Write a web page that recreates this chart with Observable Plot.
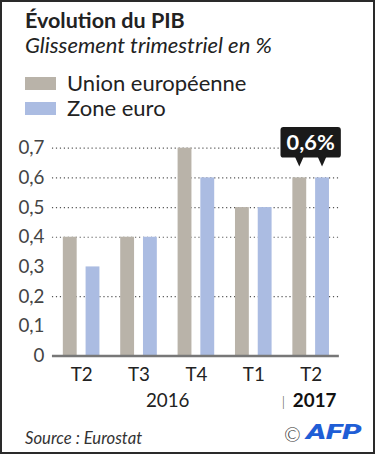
<!DOCTYPE html>
<html>
<head>
<meta charset="utf-8">
<script src="https://cdn.jsdelivr.net/npm/d3@7"></script>
<script src="https://cdn.jsdelivr.net/npm/@observablehq/plot@0.6"></script>
<style>
  html, body { margin: 0; padding: 0; background: #fff; }
  #frame { position: relative; width: 375px; height: 454px; box-sizing: border-box; border: 2px solid #2a2a2a; overflow: hidden; font-family: Lato, "Open Sans", sans-serif; color: #222; }
  .abs { position: absolute; white-space: nowrap; line-height: 1; }
  #title { left: 23px; top: 8px; font-size: 21.5px; font-weight: 700; }
  #subtitle { left: 23px; top: 32px; font-size: 22px; font-style: italic; }
  .sw { position: absolute; width: 31px; height: 13px; }
  .lg { position: absolute; font-size: 22px; line-height: 24px; white-space: nowrap; }
  #chart { position: absolute; left: -2px; top: 118px; line-height: 0; }
  #chart svg { display: block; }
  #source { left: 23px; top: 428px; font-size: 16.7px; font-style: italic; color: #333; }
  #copy { left: 282px; top: 422px; font-size: 20px; font-weight: 300; color: #333; }
  #afp { left: 304px; top: 420px; font-size: 21px; font-weight: 900; font-style: italic; color: #1f5ed6; letter-spacing: 0px; font-family: Roboto, Lato, sans-serif; transform: scaleX(1.45); transform-origin: left center; }
</style>
</head>
<body>
<div id="frame">
  <div id="title" class="abs">Évolution du PIB</div>
  <div id="subtitle" class="abs">Glissement trimestriel en %</div>
  <div id="legend"></div>
  <div id="chart"></div>
  <div id="source" class="abs">Source : Eurostat</div>
  <div id="copy" class="abs">©</div>
  <div id="afp" class="abs">AFP</div>
</div>
<script>
// ---- data ----
const quarters = ["T2", "T3", "T4", "T1", "T2"];
const years = ["2016", "2016", "2016", "2016", "2017"];
const seriesNames = ["Union européenne", "Zone euro"];
const ueValues = [0.4, 0.4, 0.7, 0.5, 0.6];
const zeValues = [0.3, 0.4, 0.6, 0.5, 0.6];
const yTicks = [0, 0.1, 0.2, 0.3, 0.4, 0.5, 0.6, 0.7];
const gridValues = [0.2, 0.4, 0.5, 0.6, 0.7];
const calloutLabel = "0,6%";
const calloutIndex = 4;
const calloutValue = 0.6;

// ---- style ----
const ueColor = "#b9b3a9";
const zeColor = "#abbce2";
const colors = [ueColor, zeColor];

// legend
const legend = document.getElementById("legend");
seriesNames.forEach((name, i) => {
  const sw = document.createElement("div");
  sw.className = "sw";
  sw.style.left = "23px";
  sw.style.top = (75 + i * 24.5) + "px";
  sw.style.background = colors[i];
  legend.appendChild(sw);
  const t = document.createElement("div");
  t.className = "lg";
  t.style.left = "65px";
  t.style.top = (69 + i * 25) + "px";
  t.textContent = name;
  legend.appendChild(t);
});

const idx = d3.range(quarters.length);

function callout(index, scales) {
  const x = scales.x, y = scales.y;
  const bw = typeof x.bandwidth === "function" ? x.bandwidth() : 58;
  const x0 = x(calloutIndex);
  const cx = x0 + bw / 2;
  const c1 = x0 + 17.5, c2 = x0 + 40.5;
  const tip = y(calloutValue) - 11;
  const bottom = tip - 9;
  const top = bottom - 31;
  const w = 61;
  const g = d3.create("svg:g");
  g.append("rect").attr("x", cx - w / 2).attr("y", top).attr("width", w).attr("height", bottom - top).attr("rx", 3).attr("fill", "#1a1a1a");
  for (const c of [c1, c2]) {
    g.append("path").attr("d", `M${c - 4.5},${bottom - 1}L${c + 4.5},${bottom - 1}L${c},${tip}Z`).attr("fill", "#1a1a1a");
  }
  g.append("text").attr("x", cx).attr("y", (top + bottom) / 2).attr("dy", "0.36em")
    .attr("text-anchor", "middle").attr("fill", "#fff").attr("font-weight", 700).attr("font-size", 22)
    .attr("font-family", "Lato, sans-serif").text(calloutLabel);
  return g.node();
}

const plot = Plot.plot({
  width: 377,
  height: 300,
  marginLeft: 52.5,
  marginRight: 34.5,
  marginTop: 28,
  marginBottom: 62,
  style: { fontFamily: "Lato, sans-serif", color: "#333", background: "transparent" },
  x: { type: "band", domain: idx, padding: 0 },
  y: { domain: [0, 0.7] },
  marks: [
    Plot.ruleY(gridValues, { stroke: "#555", strokeDasharray: "1.2,2.8", strokeWidth: 1.2 }),
    Plot.barY(idx, { x: i => i, y: i => ueValues[i], fill: ueColor, insetLeft: 10.5, insetRight: 33.5 }),
    Plot.barY(idx, { x: i => i, y: i => zeValues[i], fill: zeColor, insetLeft: 33.5, insetRight: 10.5 }),
    Plot.ruleY([0], { stroke: "#777", strokeWidth: 2.5 }),
    Plot.axisY({ ticks: yTicks, tickSize: 0, tickPadding: 8, fontSize: 19, fill: "#444",
      tickFormat: d => String(d).replace(".", ","), label: null }),
    Plot.axisX({ tickSize: 0, tickPadding: 12, fontSize: 19, fill: "#222",
      tickFormat: i => quarters[i], label: null }),
    Plot.text(["2016"], { x: () => 2, frameAnchor: "bottom", lineAnchor: "middle", dy: 46, dx: -29, text: d => d, fontSize: 19, fill: "#222" }),
    Plot.text([years[4]], { x: () => calloutIndex, frameAnchor: "bottom", lineAnchor: "middle", dy: 46, dx: 3.5, text: d => d, fontSize: 19, fontWeight: 700, fill: "#111" }),
    Plot.text(["|"], { x: () => calloutIndex, frameAnchor: "bottom", lineAnchor: "middle", dy: 47, dx: -28, text: d => d, fontSize: 14, fontWeight: 300, fill: "#333" }),
    callout
  ]
});
document.getElementById("chart").appendChild(plot);
</script>
</body>
</html>
